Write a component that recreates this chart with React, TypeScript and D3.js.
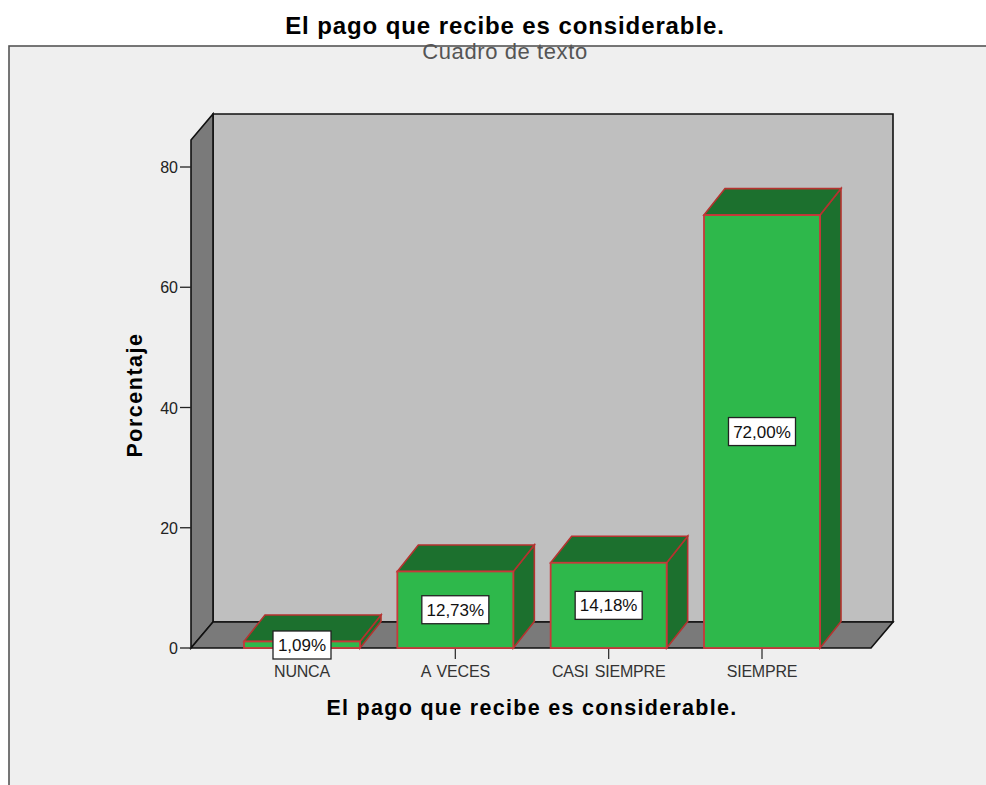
import React from "react";
import * as d3 from "d3";

const categories = ["NUNCA", "A VECES", "CASI SIEMPRE", "SIEMPRE"];
const values = [1.09, 12.73, 14.18, 72.0];
const valueLabels = ["1,09%", "12,73%", "14,18%", "72,00%"];
const yTicks = [0, 20, 40, 60, 80];
const chartTitle = "El pago que recibe es considerable.";
const subtitle = "Cuadro de texto";
const yTitle = "Porcentaje";

const W = 986, H = 785;
const FONT = "'Liberation Sans', Arial, sans-serif";
const DX = 22, DY = -26;
const BDX = 21, BDY = -26.5;
const floorY = 648, x0 = 191, x1 = 871;
const y = d3.scaleLinear().domain([0, 80]).range([floorY, 167]);
const x = d3.scaleBand().domain(categories).range([244, 820]).paddingInner(37.33 / 153.33).paddingOuter(0);
const poly = (pts: [number, number][]) => (d3.line()(pts) as string) + "Z";
const labelW = [58, 67, 67, 67];

export default function App() {
  const backTop = 114;
  const frontTop = backTop - DY;
  return (
    <svg width={W} height={H} viewBox={`0 0 ${W} ${H}`} style={{ position: "fixed", left: 0, top: 0, background: "#fff" }} fontFamily={FONT}>
      <rect x={9} y={46} width={W + 20} height={H} fill="#efefef" stroke="#555" strokeWidth={1.6} />
      <text x={505} y={34} textAnchor="middle" fontSize={24} letterSpacing={0.9} fontWeight="bold" fill="#000">{chartTitle}</text>
      <text x={505} y={59} textAnchor="middle" fontSize={22} letterSpacing={0.6} fill="#555">{subtitle}</text>

      <path d={poly([[x0 + DX, backTop], [x1 + DX, backTop], [x1 + DX, floorY + DY], [x0 + DX, floorY + DY]])} fill="#bfbfbf" stroke="#111" strokeWidth={1.6} />
      <path d={poly([[x0, frontTop], [x0 + DX, backTop], [x0 + DX, floorY + DY], [x0, floorY]])} fill="#7a7a7a" stroke="#111" strokeWidth={1.6} />
      <path d={poly([[x0, floorY], [x0 + DX, floorY + DY], [x1 + DX, floorY + DY], [x1, floorY]])} fill="#7a7a7a" stroke="#111" strokeWidth={1.6} />

      {yTicks.map((t) => (
        <g key={t}>
          <line x1={180} x2={x0} y1={y(t)} y2={y(t)} stroke="#222" strokeWidth={1.3} />
          <text x={178} y={y(t) + 6} textAnchor="end" fontSize={16} fill="#222">{t}</text>
        </g>
      ))}

      {categories.map((c, i) => {
        const l = x(c) as number;
        const r = l + x.bandwidth();
        const t = y(values[i]);
        const cx = (l + r) / 2;
        return (
          <g key={c}>
            <line x1={cx} x2={cx} y1={floorY} y2={floorY + 11} stroke="#333" strokeWidth={1.3} />
            <path d={poly([[r, t], [r + BDX, t + BDY], [r + BDX, floorY + BDY], [r, floorY]])} fill="#1c702e" stroke="#b5322f" strokeWidth={1.6} />
            <path d={poly([[l, t], [l + BDX, t + BDY], [r + BDX, t + BDY], [r, t]])} fill="#1c702e" stroke="#b5322f" strokeWidth={1.6} />
            <rect x={l} y={t} width={x.bandwidth()} height={floorY - t} fill="#2eb84b" stroke="#c8383a" strokeWidth={1.8} />
            <text x={cx} y={677} textAnchor="middle" fontSize={16} letterSpacing={-0.2} wordSpacing={2} fill="#333">{c}</text>
          </g>
        );
      })}

      {categories.map((c, i) => {
        const cx = (x(c) as number) + x.bandwidth() / 2;
        const t = y(values[i]);
        const cy = i === 0 ? 645 : (t + floorY) / 2;
        const w = labelW[i];
        return (
          <g key={c + "-label"}>
            <rect x={cx - w / 2} y={cy - 14} width={w} height={28} fill="#fff" stroke="#222" strokeWidth={1.3} />
            <text x={cx} y={cy + 6} textAnchor="middle" fontSize={17} fill="#111">{valueLabels[i]}</text>
          </g>
        );
      })}

      <text x={532} y={715} textAnchor="middle" fontSize={21.5} fontWeight="bold" letterSpacing={1.3} fill="#000">{chartTitle}</text>
      <text transform="translate(142,395) rotate(-90)" textAnchor="middle" fontSize={21.5} fontWeight="bold" letterSpacing={1.5} fill="#000">{yTitle}</text>
    </svg>
  );
}
